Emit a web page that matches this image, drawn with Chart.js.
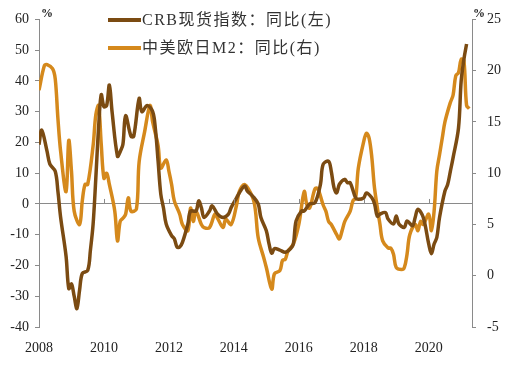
<!DOCTYPE html>
<html>
<head>
<meta charset="utf-8">
<script src="https://cdn.jsdelivr.net/npm/chart.js@4/dist/chart.umd.min.js"></script>
<style>
  html, body { margin: 0; padding: 0; background: #fff; }
  #wrap { width: 523px; height: 367px; }
</style>
</head>
<body>
<div id="wrap"><canvas id="chart" width="523" height="367"></canvas></div>
<script>
// CRB现货指数 同比 (left axis, %)
let crbMonths = ["2008-01","2008-02","2008-04","2008-05","2008-07","2008-08","2008-09","2008-11","2008-12","2009-01","2009-02","2009-03","2009-04","2009-05","2009-07","2009-08","2009-09","2009-10","2009-11","2009-12","2010-01","2010-02","2010-03","2010-04","2010-06","2010-07","2010-08","2010-09","2010-11","2010-12","2011-02","2011-03","2011-05","2011-07","2011-08","2011-09","2011-10","2011-11","2011-12","2012-02","2012-03","2012-04","2012-05","2012-06","2012-08","2012-09","2012-11","2012-12","2013-01","2013-02","2013-04","2013-05","2013-07","2013-09","2013-11","2013-12","2014-02","2014-03","2014-05","2014-06","2014-08","2014-10","2014-11","2015-01","2015-02","2015-03","2015-04","2015-06","2015-08","2015-10","2015-11","2015-12","2016-02","2016-03","2016-05","2016-07","2016-09","2016-10","2016-12","2017-01","2017-02","2017-03","2017-04","2017-06","2017-07","2017-08","2017-10","2017-11","2018-01","2018-02","2018-04","2018-05","2018-06","2018-07","2018-09","2018-10","2018-12","2019-01","2019-02","2019-04","2019-05","2019-07","2019-08","2019-09","2019-11","2020-01","2020-02","2020-03","2020-04","2020-05","2020-07","2020-08","2020-09","2020-10","2020-12","2021-01","2021-02","2021-03","2021-04","2021-05"];
let crbValues = [19.3,24,17,13,10.6,4,-4.4,-17,-27.5,-26,-30,-34,-28,-22.6,-21.6,-15,-6.5,8.5,24.6,35.5,31.6,32,38.7,30,15.5,17,19.3,28.7,22,22,34.3,30,32,30,24.5,14,3.2,-1.3,-6.5,-10.3,-11.3,-14,-14,-12.5,-6.5,-2.3,-2.3,1,-1.2,-4.4,-2.3,-0.6,-3.3,-4.4,-3.3,-1.2,2,3.6,5.8,4.2,2.5,0,-4.4,-8.7,-13,-16,-14.5,-15,-15.7,-14.5,-13,-5.5,-2.3,-2.3,0,0.4,6.4,12.9,13.9,10.6,5.3,3.6,6.4,8,6.9,6.9,2,1.5,2,3.6,2,0,-4,-3.3,-2.8,-4.9,-6.5,-3.9,-6.5,-7.6,-5.5,-7.1,-4.4,-1.7,-4.4,-13,-16.2,-13,-10.9,-4.4,4.2,6.3,10.6,15,24.6,40,47,52];

// 中美欧日M2 同比 (right axis, %)
let m2Months = ["2008-01","2008-03","2008-04","2008-06","2008-07","2008-08","2008-09","2008-11","2008-12","2009-01","2009-02","2009-04","2009-05","2009-06","2009-07","2009-09","2009-10","2009-11","2009-12","2010-01","2010-02","2010-03","2010-05","2010-06","2010-07","2010-08","2010-09","2010-10","2010-11","2011-01","2011-02","2011-04","2011-06","2011-07","2011-09","2011-10","2011-12","2012-01","2012-02","2012-03","2012-05","2012-06","2012-08","2012-09","2012-10","2012-11","2013-01","2013-02","2013-04","2013-06","2013-07","2013-09","2013-10","2013-12","2014-02","2014-03","2014-05","2014-08","2014-09","2014-10","2014-12","2015-01","2015-03","2015-04","2015-06","2015-07","2015-08","2015-09","2015-11","2016-01","2016-03","2016-04","2016-05","2016-07","2016-08","2016-10","2016-11","2016-12","2017-01","2017-03","2017-04","2017-05","2017-06","2017-08","2017-09","2017-10","2017-11","2018-01","2018-02","2018-03","2018-04","2018-05","2018-07","2018-08","2018-10","2018-11","2018-12","2019-01","2019-03","2019-04","2019-05","2019-06","2019-08","2019-09","2019-10","2019-11","2020-01","2020-02","2020-03","2020-04","2020-05","2020-06","2020-07","2020-09","2020-10","2020-11","2020-12","2021-01","2021-02","2021-03","2021-04"];
let m2Values = [18.1,20.5,20.6,20.2,19.2,15.3,12.1,8.2,13.2,10.2,6.3,5.0,7.3,8.9,8.9,12.7,15.7,16.6,12.8,9.5,10,8.9,6.3,3.4,5.3,5.6,6,7.6,6.3,6.5,11.1,14,16.6,15,12.7,10.5,11.3,10.2,8.9,7.3,6,5.0,4.4,6.6,5.3,6.3,5.0,4.7,4.7,6,5.6,4.7,5.5,5.0,6.9,8.2,8.9,7.6,6.3,3.7,1.8,0.8,-1.3,0.2,0.5,1.5,1.6,2.4,3.1,5.0,8.2,6.9,6.6,8.5,8.5,6.9,6.3,5.3,5.0,4.0,3.6,4.4,5.3,6.3,7.3,7.6,10.5,13.1,13.9,13.4,11.5,8.5,5.0,3.4,2.7,2.7,2.1,0.8,0.6,0.8,2.1,4.0,5.0,4.4,5.3,5.0,6,4.4,6.3,10.2,11.8,13.4,15,16.9,17.6,19.5,19.8,21.1,21,16.6,16.3];

let seriesNames = ["CRB现货指数：同比(左)", "中美欧日M2：同比(右)"];
let leftTicks = [-40, 60, 10];
let rightTicks = [-5, 25, 5];
let yearLabels = [2008, 2010, 2012, 2014, 2016, 2018, 2020];
let xMax = 2021 + 4 / 12;

const brown = "#7b4b12";
const orange = "#d5891c";
const serif = "'Liberation Serif', 'DejaVu Serif', 'Noto Sans CJK SC', serif";

function toYear(s) {
    const p = s.split("-");
    return parseInt(p[0]) + (parseInt(p[1]) - 1) / 12;
}

function points(months, values) {
    return months.map((m, i) => ({ x: toYear(m), y: values[i] }));
}

// zero line ticks, percent signs and legend
const extras = {
    id: "extras",
    afterDatasetsDraw(chart) {
        const ctx = chart.ctx;
        const x = chart.scales.x;
        const y = chart.scales.y;
        const a = chart.chartArea;
        const y0 = y.getPixelForValue(0);
        ctx.save();
        ctx.strokeStyle = "#8a8a8a";
        ctx.lineWidth = 1;
        yearLabels.slice(1).forEach(yr => {
            const px = Math.round(x.getPixelForValue(yr)) + 0.5;
            ctx.beginPath();
            ctx.moveTo(px, y0);
            ctx.lineTo(px, y0 - 5);
            ctx.stroke();
        });
        ctx.fillStyle = "#222";
        ctx.font = "bold 12px " + serif;
        ctx.textBaseline = "middle";
        ctx.textAlign = "left";
        ctx.fillText("%", a.left + 2, 14);
        ctx.fillText("%", a.right + 1, 14);

        ctx.font = "16px " + serif;
        ctx.letterSpacing = "1.5px";
        chart.data.datasets.forEach((ds, i) => {
            const ly = 20 + i * 28;
            ctx.strokeStyle = ds.borderColor;
            ctx.lineWidth = 4;
            ctx.beginPath();
            ctx.moveTo(108, ly);
            ctx.lineTo(141, ly);
            ctx.stroke();
            ctx.fillStyle = "#333";
            ctx.fillText(ds.label, 142, ly + 1);
        });
        ctx.restore();
    }
};

new Chart(document.getElementById("chart"), {
    type: "line",
    data: {
        datasets: [
            {
                label: seriesNames[0],
                data: points(crbMonths, crbValues),
                borderColor: brown,
                borderWidth: 3.5,
                pointRadius: 0,
                tension: 0.35,
                yAxisID: "y"
            },
            {
                label: seriesNames[1],
                data: points(m2Months, m2Values),
                borderColor: orange,
                borderWidth: 3.5,
                pointRadius: 0,
                tension: 0.35,
                yAxisID: "y1"
            }
        ]
    },
    options: {
        responsive: false,
        animation: false,
        layout: { padding: { top: 17, left: 0, right: 0, bottom: 0 } },
        plugins: { legend: { display: false }, tooltip: { enabled: false } },
        scales: {
            x: {
                type: "linear",
                min: yearLabels[0],
                max: xMax,
                grid: { display: false, drawTicks: false },
                border: { display: false },
                afterBuildTicks: s => { s.ticks = yearLabels.map(v => ({ value: v })); },
                ticks: {
                    autoSkip: false,
                    maxRotation: 0,
                    padding: 13,
                    color: "#222",
                    font: { family: serif, size: 14 },
                    callback: v => String(v)
                },
                afterFit: s => { s.height = 40; }
            },
            y: {
                position: "left",
                min: leftTicks[0],
                max: leftTicks[1],
                ticks: {
                    stepSize: leftTicks[2],
                    padding: 6,
                    color: "#222",
                    font: { family: serif, size: 14 }
                },
                grid: {
                    color: c => (c.tick && c.tick.value === 0 ? "#8a8a8a" : "rgba(0,0,0,0)"),
                    tickColor: "#8a8a8a",
                    tickLength: 4
                },
                border: { display: true, color: "#8a8a8a" },
                afterFit: s => { s.width = 39; }
            },
            y1: {
                position: "right",
                min: rightTicks[0],
                max: rightTicks[1],
                ticks: {
                    stepSize: rightTicks[2],
                    padding: 11,
                    color: "#222",
                    font: { family: serif, size: 14 }
                },
                grid: { drawOnChartArea: false, tickColor: "#8a8a8a", tickLength: 4 },
                border: { display: true, color: "#8a8a8a" },
                afterFit: s => { s.width = 51; }
            }
        }
    },
    plugins: [extras]
});
</script>
</body>
</html>
